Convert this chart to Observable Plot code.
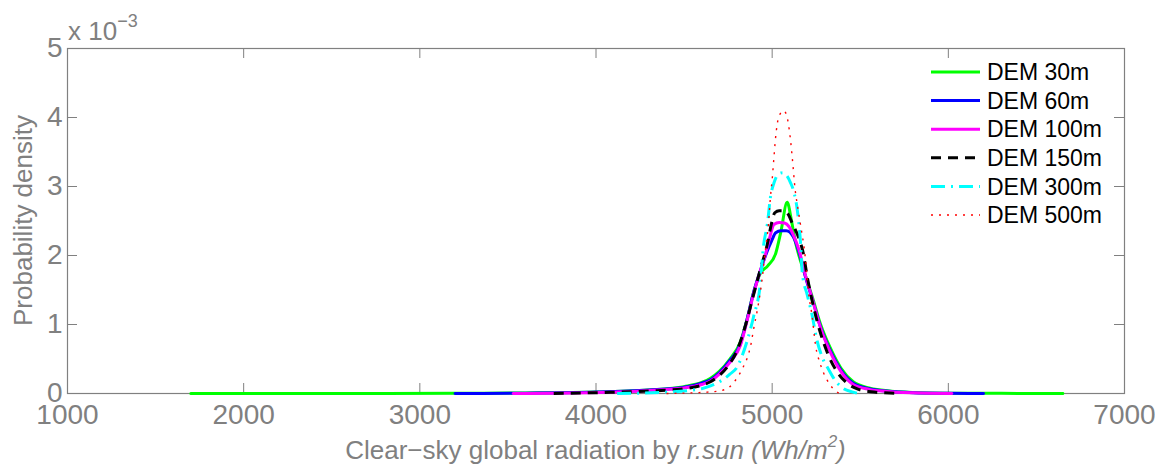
<!DOCTYPE html>
<html><head><meta charset="utf-8">
<script src="https://cdn.jsdelivr.net/npm/d3@7"></script>
<script src="https://cdn.jsdelivr.net/npm/@observablehq/plot@0.6"></script>
<style>body{margin:0;background:#fff}</style>
</head><body><div id="chart"></div>
<script>
// ---- data (y values in units of 10^-3) ----
const seriesNames = ["DEM 30m", "DEM 60m", "DEM 100m", "DEM 150m", "DEM 300m", "DEM 500m"];
const xTicks = [1000, 2000, 3000, 4000, 5000, 6000, 7000];
const yTicks = [0, 1, 2, 3, 4, 5];

const dem30X = [1700, 2500, 3200, 3600, 4000, 4300, 4500, 4600, 4650, 4700, 4760, 4820, 4860, 4893, 4933, 4975, 5020, 5050, 5085, 5110, 5130, 5160, 5190, 5230, 5275, 5330, 5390, 5460, 5550, 5650, 5800, 6000, 6300, 6650];
const dem30Y = [0, 0, 0.003, 0.008, 0.02, 0.05, 0.1, 0.16, 0.22, 0.32, 0.5, 0.75, 1.1, 1.45, 1.74, 1.85, 2.03, 2.35, 2.77, 2.5, 2.22, 1.93, 1.7, 1.38, 1.0, 0.66, 0.37, 0.17, 0.08, 0.04, 0.015, 0.005, 0.002, 0];

const dem60X = [3200, 3600, 4000, 4300, 4500, 4600, 4650, 4700, 4760, 4820, 4860, 4893, 4933, 4973, 4995, 5020, 5050, 5080, 5100, 5120, 5150, 5190, 5230, 5275, 5330, 5390, 5460, 5550, 5650, 5800, 6000, 6200];
const dem60Y = [0, 0.005, 0.02, 0.05, 0.09, 0.15, 0.2, 0.3, 0.48, 0.72, 1.1, 1.45, 1.78, 2.07, 2.2, 2.33, 2.36, 2.36, 2.34, 2.27, 2.07, 1.68, 1.35, 0.96, 0.62, 0.34, 0.15, 0.07, 0.035, 0.012, 0.004, 0];

const dem100X = [3530, 4000, 4300, 4500, 4600, 4650, 4700, 4760, 4820, 4860, 4893, 4933, 4960, 4985, 5010, 5040, 5070, 5095, 5120, 5150, 5190, 5230, 5275, 5330, 5390, 5460, 5550, 5650, 5800, 6020];
const dem100Y = [0, 0.015, 0.045, 0.08, 0.13, 0.18, 0.28, 0.45, 0.7, 1.08, 1.43, 1.78, 2.0, 2.25, 2.45, 2.48, 2.47, 2.42, 2.3, 2.1, 1.7, 1.35, 0.95, 0.6, 0.32, 0.13, 0.06, 0.03, 0.01, 0];

const dem150X = [3760, 4000, 4300, 4500, 4600, 4650, 4700, 4750, 4800, 4850, 4893, 4933, 4973, 4995, 5015, 5040, 5060, 5090, 5115, 5150, 5175, 5200, 5240, 5275, 5320, 5375, 5430, 5490, 5560, 5640, 5720];
const dem150Y = [0, 0.012, 0.035, 0.07, 0.12, 0.17, 0.26, 0.4, 0.62, 1.0, 1.42, 1.8, 2.17, 2.45, 2.62, 2.65, 2.65, 2.6, 2.46, 2.26, 2.05, 1.68, 1.2, 0.87, 0.55, 0.29, 0.14, 0.06, 0.025, 0.01, 0];

const dem300X = [4120, 4400, 4550, 4600, 4650, 4700, 4720, 4760, 4800, 4830, 4860, 4895, 4933, 4950, 4973, 4990, 5010, 5035, 5060, 5085, 5105, 5120, 5143, 5160, 5171, 5200, 5228, 5250, 5285, 5320, 5347, 5400, 5460, 5490];
const dem300Y = [0, 0.02, 0.05, 0.07, 0.11, 0.17, 0.2, 0.28, 0.38, 0.55, 0.78, 1.12, 1.6, 2.12, 2.46, 2.84, 3.05, 3.18, 3.2, 3.15, 3.05, 2.95, 2.65, 2.22, 1.75, 1.42, 1.12, 0.82, 0.52, 0.35, 0.23, 0.08, 0.02, 0];

const dem500X = [4400, 4550, 4632, 4706, 4760, 4802, 4835, 4859, 4880, 4893, 4922, 4944, 4961, 4979, 4990, 5001, 5010, 5018, 5029, 5045, 5063, 5080, 5092, 5103, 5114, 5131, 5145, 5160, 5188, 5205, 5228, 5245, 5273, 5313, 5380];
const dem500Y = [0, 0.01, 0.02, 0.04, 0.1, 0.23, 0.38, 0.52, 0.72, 0.91, 1.30, 1.68, 2.07, 2.46, 2.84, 3.13, 3.42, 3.67, 3.91, 4.05, 4.1, 4.05, 3.91, 3.7, 3.42, 2.94, 2.7, 2.46, 1.97, 1.49, 1.10, 0.72, 0.43, 0.19, 0];

// ---- styles ----
const seriesX = [dem30X, dem60X, dem100X, dem150X, dem300X, dem500X];
const seriesY = [dem30Y, dem60Y, dem100Y, dem150Y, dem300Y, dem500Y];
const styles = [
  {stroke: "#00ff00", strokeWidth: 3, dash: null},
  {stroke: "#0000ff", strokeWidth: 3, dash: null},
  {stroke: "#ff00ff", strokeWidth: 3, dash: null},
  {stroke: "#000000", strokeWidth: 3, dash: "10,7"},
  {stroke: "#00ffff", strokeWidth: 3, dash: "14,6,2,6"},
  {stroke: "#ff0000", strokeWidth: 1.4, dash: "2,6"}
];

const W = 1155, H = 469;
const mL = 67, mR = 31, mT = 48, mB = 76;
const innerW = W - mL - mR, innerH = H - mT - mB;
const tickLen = 10;
const gray = "#808080";
const font = "'Liberation Sans', Arial, sans-serif";

const lineMarks = seriesNames.map((name, i) => {
  const data = seriesX[i].map((x, j) => ({x, y: seriesY[i][j], name}));
  const s = styles[i];
  return Plot.line(data, {
    x: "x", y: "y", stroke: s.stroke, strokeWidth: s.strokeWidth,
    strokeDasharray: s.dash || undefined, strokeLinecap: s.dash ? "butt" : "round",
    curve: "monotone-x"
  });
});

const chart = Plot.plot({
  width: W, height: H,
  marginLeft: mL, marginRight: mR, marginTop: mT, marginBottom: mB,
  style: {fontFamily: font, fontSize: "28px", color: gray, background: "#fff"},
  x: {domain: [1000, 7000]},
  y: {domain: [0, 5]},
  marks: [
    Plot.frame({stroke: gray, strokeWidth: 1.2}),
    Plot.tickX(xTicks, {x: d => d, insetTop: innerH - tickLen, stroke: gray}),
    Plot.tickX(xTicks, {x: d => d, insetBottom: innerH - tickLen, stroke: gray}),
    Plot.tickY(yTicks, {y: d => d, insetRight: innerW - tickLen, stroke: gray}),
    Plot.tickY(yTicks, {y: d => d, insetLeft: innerW - tickLen, stroke: gray}),
    Plot.axisX({ticks: xTicks, tickSize: 0, tickPadding: 11, tickFormat: d => String(d), label: null}),
    Plot.axisY({ticks: yTicks, tickSize: 0, tickPadding: 5, tickFormat: d => String(d), label: null}),
    ...lineMarks
  ]
});

document.getElementById("chart").appendChild(chart);
const svg = d3.select(chart);

// exponent label
const ex = svg.append("text").attr("x", mL + 1).attr("y", 40).attr("text-anchor", "start")
  .attr("font-family", font).attr("font-size", 26).attr("fill", gray);
ex.append("tspan").text("x 10");
ex.append("tspan").attr("font-size", 18).attr("dy", -13).text("\u22123");

// y-axis title
svg.append("text").attr("transform", `translate(32,${mT + innerH / 2}) rotate(-90)`)
  .attr("text-anchor", "middle").attr("font-family", font).attr("font-size", 26)
  .attr("fill", gray).text("Probability density");

// x-axis title
const xt = svg.append("text").attr("x", mL + innerW / 2).attr("y", 459)
  .attr("text-anchor", "middle").attr("font-family", font).attr("font-size", 26).attr("fill", gray);
xt.append("tspan").text("Clear\u2212sky global radiation by ");
xt.append("tspan").attr("font-style", "italic").text("r.sun (Wh/m");
xt.append("tspan").attr("font-style", "italic").attr("font-size", 17).attr("dy", -12).text("2");
xt.append("tspan").attr("font-style", "italic").attr("dy", 12).text(")");

// legend
const lg = svg.append("g");
const rowY0 = 72, rowStep = 28.6;
seriesNames.forEach((name, i) => {
  const y = rowY0 + i * rowStep;
  const s = styles[i];
  lg.append("line").attr("x1", 931).attr("x2", 980).attr("y1", y).attr("y2", y)
    .attr("stroke", s.stroke).attr("stroke-width", s.strokeWidth)
    .attr("stroke-dasharray", s.dash).attr("stroke-linecap", "butt");
  lg.append("text").attr("x", 987).attr("y", y).attr("dy", "0.36em").attr("text-anchor", "start")
    .attr("font-family", font).attr("font-size", 23).attr("fill", "#000").text(name);
});
</script>
</body></html>
